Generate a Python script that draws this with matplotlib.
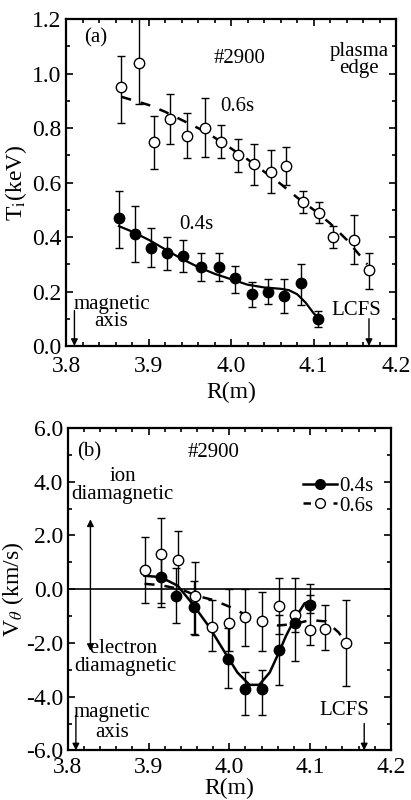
import matplotlib
matplotlib.use("Agg")
import matplotlib.pyplot as plt
from matplotlib.lines import Line2D
from matplotlib.ticker import MultipleLocator, FormatStrFormatter

plt.rcParams['font.family'] = ['Liberation Serif', 'DejaVu Serif']
plt.rcParams['mathtext.fontset'] = 'stix'
plt.rcParams['axes.unicode_minus'] = False

# (a) ion temperature, 0.4s (filled) and 0.6s (open)
ti04_r = [3.864, 3.884, 3.903, 3.922, 3.942, 3.964, 3.985, 4.005, 4.025, 4.045, 4.064, 4.085, 4.105]
ti04 = [0.47, 0.41, 0.36, 0.34, 0.33, 0.29, 0.29, 0.25, 0.19, 0.20, 0.185, 0.23, 0.10]
ti04_hi = [0.57, 0.515, 0.435, 0.40, 0.39, 0.34, 0.34, 0.295, 0.235, 0.245, 0.245, 0.30, 0.13]
ti04_lo = [0.36, 0.31, 0.29, 0.28, 0.27, 0.24, 0.24, 0.195, 0.145, 0.155, 0.12, 0.15, 0.07]

ti06_r = [3.867, 3.888, 3.907, 3.926, 3.947, 3.968, 3.988, 4.008, 4.028, 4.048, 4.067, 4.087, 4.106, 4.124, 4.149, 4.167]
ti06 = [0.95, 1.04, 0.75, 0.835, 0.77, 0.80, 0.75, 0.70, 0.67, 0.64, 0.66, 0.53, 0.49, 0.40, 0.39, 0.28]
ti06_hi = [1.065, 1.21, 0.845, 0.925, 0.855, 0.91, 0.81, 0.76, 0.74, 0.72, 0.73, 0.57, 0.53, 0.44, 0.48, 0.34]
ti06_lo = [0.82, 0.89, 0.65, 0.74, 0.69, 0.695, 0.69, 0.64, 0.59, 0.56, 0.59, 0.49, 0.45, 0.36, 0.30, 0.21]

# fitted profiles
fit04_r = [3.864, 3.88, 3.90, 3.92, 3.94, 3.96, 3.98, 4.00, 4.02, 4.04, 4.06, 4.07, 4.08, 4.09, 4.10, 4.107]
fit04 = [0.44, 0.42, 0.39, 0.355, 0.32, 0.29, 0.265, 0.245, 0.225, 0.215, 0.21, 0.205, 0.19, 0.16, 0.12, 0.10]
fit06_r = [3.867, 3.90, 3.92, 3.94, 3.96, 3.98, 4.00, 4.02, 4.04, 4.06, 4.08, 4.10, 4.12, 4.14, 4.165]
fit06 = [0.915, 0.885, 0.86, 0.83, 0.80, 0.765, 0.725, 0.685, 0.64, 0.595, 0.545, 0.50, 0.45, 0.39, 0.30]

# (b) poloidal rotation velocity
vp04_r = [3.915, 3.934, 3.956, 3.998, 4.019, 4.040, 4.061, 4.081, 4.100]
vp04 = [0.45, -0.24, -0.66, -2.6, -3.7, -3.7, -2.27, -1.24, -0.57]
vp04_hi = [1.4, 0.8, 0.3, -1.46, -3.1, -3.0, -0.97, -0.85, -0.2]
vp04_lo = [-0.5, -1.27, -1.65, -3.67, -4.67, -4.7, -3.57, -1.6, -0.9]

vp06_r = [3.895, 3.915, 3.936, 3.957, 3.979, 3.999, 4.019, 4.040, 4.061, 4.081, 4.100, 4.119, 4.144]
vp06 = [0.72, 1.31, 1.09, -0.24, -1.39, -1.27, -1.03, -1.2, -0.62, -0.97, -1.52, -1.47, -2.0]
vp06_hi = [1.95, 2.65, 2.15, 1.0, -0.4, 0.0, 0.0, -0.1, 0.43, 0.42, 0.2, -0.6, -0.42]
vp06_lo = [-0.5, -0.65, 0.0, -1.7, -2.3, -2.3, -2.1, -2.3, -1.67, -2.67, -2.08, -2.27, -3.6]

fitv04_r = [3.895, 3.915, 3.936, 3.954, 3.975, 3.995, 4.01, 4.025, 4.037, 4.05, 4.061, 4.07, 4.08, 4.093, 4.10, 4.105]
fitv04 = [0.5, 0.45, 0.13, -0.53, -1.4, -2.38, -3.1, -3.56, -3.56, -3.1, -2.38, -1.75, -1.16, -0.53, -0.46, -0.5]
fitv06_r = [3.895, 3.915, 3.94, 3.96, 3.98, 4.00, 4.02, 4.04, 4.06, 4.08, 4.10, 4.12, 4.135, 4.145]
fitv06 = [0.2, 0.15, 0.0, -0.25, -0.4, -0.65, -0.95, -1.25, -1.35, -1.3, -1.15, -1.2, -1.6, -2.0]


def errs(y, hi, lo):
    return [[v - l for v, l in zip(y, lo)], [h - v for v, h in zip(y, hi)]]


def style_axes(ax, ymaj, ymin):
    ax.set_xlim(3.8, 4.2)
    ax.xaxis.set_major_locator(MultipleLocator(0.1))
    ax.xaxis.set_minor_locator(MultipleLocator(0.02))
    ax.yaxis.set_major_locator(MultipleLocator(ymaj))
    ax.yaxis.set_minor_locator(MultipleLocator(ymin))
    ax.tick_params(which='both', direction='in', top=True, right=True, labelsize=17, width=1.2)
    ax.tick_params(which='major', length=5)
    ax.tick_params(which='minor', length=3)
    ax.tick_params(axis='x', pad=7)
    ax.xaxis.set_major_formatter(FormatStrFormatter('%.1f'))
    ax.yaxis.set_major_formatter(FormatStrFormatter('%.1f'))
    for s in ax.spines.values():
        s.set_linewidth(1.6)


fig = plt.figure(figsize=(4.11, 8.0), dpi=100)
ax1 = fig.add_axes([0.161, 0.5675, 0.803, 0.4085])
ax2 = fig.add_axes([0.165, 0.062, 0.786, 0.403])

ebkw = dict(color='black', lw=1.0, capsize=3, capthick=1.0, ls='none', marker='o', ms=7.5)
arr = dict(arrowstyle='-|>', color='black', lw=1.0, mutation_scale=10, shrinkA=0, shrinkB=0)

# panel (a)
ax1.errorbar(ti06_r, ti06, yerr=errs(ti06, ti06_hi, ti06_lo), mfc='white', mec='black', **ebkw, zorder=3)
ax1.errorbar(ti04_r, ti04, yerr=errs(ti04, ti04_hi, ti04_lo), mfc='black', mec='black', **ebkw, zorder=3)
ax1.plot(fit04_r, fit04, color='black', lw=1.6, zorder=2)
ax1.plot(fit06_r, fit06, color='black', lw=1.8, dashes=(4, 4), zorder=2)
style_axes(ax1, 0.2, 0.1)
ax1.set_ylim(0.0, 1.2)
ax1.set_xlabel('R(m)', fontsize=17, labelpad=4)
ax1.set_ylabel(r'T$_\mathrm{i}$(keV)', fontsize=17, labelpad=2)

ax1.text(3.822, 1.13, '(a)', fontsize=15, ha='left', va='center')
ax1.text(4.01, 1.055, '#2900', fontsize=15, ha='center', va='center')
ax1.text(4.155, 1.05, 'plasma\nedge', fontsize=15, ha='center', va='center', linespacing=0.85)
ax1.text(4.008, 0.88, '0.6s', fontsize=15, ha='center', va='center')
ax1.text(3.958, 0.445, '0.4s', fontsize=15, ha='center', va='center')
ax1.text(3.855, 0.12, 'magnetic\naxis', fontsize=15, ha='center', va='center', linespacing=0.85)
ax1.text(4.152, 0.13, 'LCFS', fontsize=15, ha='center', va='center')
ax1.annotate('', xy=(3.81, 0.0), xytext=(3.81, 0.13), arrowprops=arr)
ax1.annotate('', xy=(4.167, 0.0), xytext=(4.167, 0.10), arrowprops=arr)

# panel (b)
ax2.axhline(0.0, color='black', lw=1.2, zorder=1)
ax2.errorbar(vp06_r, vp06, yerr=errs(vp06, vp06_hi, vp06_lo), mfc='white', mec='black', **ebkw, zorder=3)
ax2.errorbar(vp04_r, vp04, yerr=errs(vp04, vp04_hi, vp04_lo), mfc='black', mec='black', **ebkw, zorder=3)
ax2.plot(fitv04_r, fitv04, color='black', lw=1.8, zorder=2)
ax2.plot(fitv06_r, fitv06, color='black', lw=1.8, dashes=(4, 4), zorder=2)
style_axes(ax2, 2.0, 1.0)
ax2.tick_params(axis='x', pad=5)
ax2.set_ylim(-6.0, 6.0)
ax2.set_xlabel('R(m)', fontsize=17, labelpad=0)
ax2.set_ylabel(r'V$_\theta$ (km/s)', fontsize=17, labelpad=0)

ax2.text(3.812, 5.1, '(b)', fontsize=15, ha='left', va='center')
ax2.text(3.98, 5.1, '#2900', fontsize=15, ha='center', va='center')
ax2.text(3.868, 3.85, 'ion\ndiamagnetic', fontsize=15, ha='center', va='center', linespacing=0.95)
ax2.text(3.808, -2.55, '   electron\ndiamagnetic', fontsize=15, ha='left', va='center', linespacing=0.95)
ax2.text(3.855, -4.95, 'magnetic\naxis', fontsize=15, ha='center', va='center', linespacing=1.05)
ax2.text(4.142, -4.5, 'LCFS', fontsize=15, ha='center', va='center')
ax2.annotate('', xy=(3.828, 2.6), xytext=(3.828, 0.0), arrowprops=arr)
ax2.annotate('', xy=(3.828, -2.3), xytext=(3.828, 0.0), arrowprops=arr)
ax2.annotate('', xy=(3.81, -6.0), xytext=(3.81, -4.7), arrowprops=arr)
ax2.annotate('', xy=(4.167, -6.0), xytext=(4.167, -5.0), arrowprops=arr)

h04 = Line2D([0], [0], color='black', lw=1.8, marker='o', ms=7, mfc='black', mec='black')
h06 = Line2D([0], [0], color='black', lw=1.8, dashes=(3, 3), marker='o', ms=7, mfc='white', mec='black')
ax2.legend([h04, h06], ['0.4s', '0.6s'], loc='upper right', bbox_to_anchor=(0.99, 0.895),
           frameon=False, fontsize=15, handlelength=1.6, handletextpad=0.1, labelspacing=0.0,
           borderpad=0.2)

fig.savefig('out.png', dpi=100)
